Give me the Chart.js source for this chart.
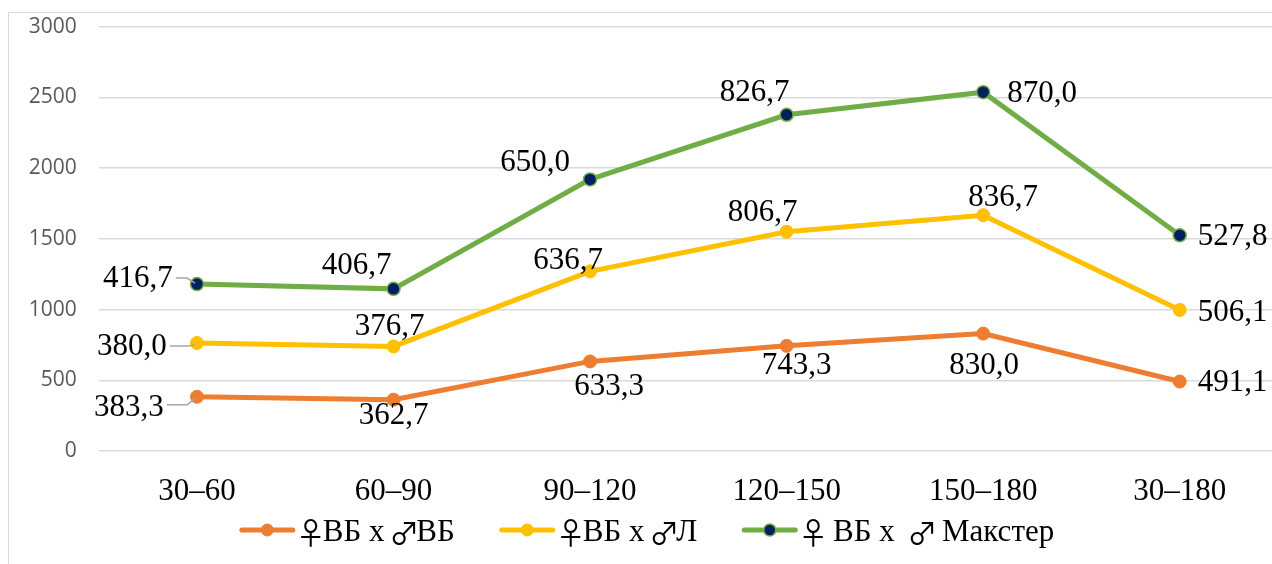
<!DOCTYPE html>
<html>
<head>
<meta charset="utf-8">
<script src="https://cdn.jsdelivr.net/npm/chart.js@4.4.1/dist/chart.umd.min.js"></script>
<style>
  html, body { margin: 0; padding: 0; background: #ffffff; overflow: hidden; }
  #wrap { position: relative; width: 1272px; height: 564px; overflow: hidden; }
  #box { position: absolute; left: 8px; top: 12px; width: 1400px; height: 700px;
         border: 1px solid #d9d9d9; box-sizing: border-box; }
  #holder { position: absolute; left: 0; top: -8px; width: 1280px; height: 572px; }
</style>
</head>
<body>
<div id="wrap">
  <div id="box"></div>
  <div id="holder"><canvas id="chart" width="1280" height="572"></canvas></div>
</div>
<script>
// Age intervals (days) on the horizontal axis
const categories = ['30–60', '60–90', '90–120', '120–150', '150–180', '30–180'];

// Series values (stacked on top of each other)
const vbVb     = [383.3, 362.7, 633.3, 743.3, 830.0, 491.1];
const vbL      = [380.0, 376.7, 636.7, 806.7, 836.7, 506.1];
const vbMaxter = [416.7, 406.7, 650.0, 826.7, 870.0, 527.8];

const seriesNames = ['♀ВБ х ♂ВБ', '♀ВБ х ♂Л', '♀ ВБ х  ♂ Макстер'];

// Y axis range / step
const yMin = 0, yMax = 3000, yStep = 500;

// Value-label placement relative to each point [dx, dy] (px)
const labelOffsets = [
  [[-68, 10], [0, 15], [19, 24], [10, 19], [1, 31], [53, 0]],
  [[-65, 3], [-4, -21], [-22, -11], [-24, -20], [20, -18], [53, 2]],
  [[-59, -6], [-37, -24], [-55, -18], [-32, -23], [59, 1], [53, 1]]
];

const ORANGE = '#ED7D31', YELLOW = '#FFC000', GREEN = '#70AD47', NAVY = '#002060';
const SERIF = '"Liberation Serif", "Times New Roman", serif';
const SYMBOL_FONT = '"Noto Sans CJK JP", "DejaVu Sans", sans-serif';

const fmt = v => v.toFixed(1).replace('.', ',');

const valueLabels = {
  id: 'valueLabels',
  afterDatasetsDraw(chart) {
    const ctx = chart.ctx;
    ctx.save();
    ctx.font = '31px ' + SERIF;
    ctx.fillStyle = '#000000';
    ctx.textAlign = 'center';
    ctx.textBaseline = 'middle';
    chart.data.datasets.forEach((ds, di) => {
      const meta = chart.getDatasetMeta(di);
      meta.data.forEach((pt, i) => {
        const [dx, dy] = labelOffsets[di][i];
        const text = fmt(ds.data[i]);
        const tx = pt.x + dx, ty = pt.y + dy;
        if (i === 0) {
          // leader line from the label to its point
          const w = ctx.measureText(text).width;
          const sx = tx + w / 2 + 3;
          const sy = ty - (di === 0 ? 2 : 0);
          ctx.save();
          ctx.strokeStyle = '#a6a6a6';
          ctx.lineWidth = 1.5;
          ctx.beginPath();
          ctx.moveTo(sx, sy);
          const mid = Math.max(sx, pt.x - 10);
          ctx.lineTo(mid, sy);
          ctx.lineTo(pt.x - 2, pt.y + (sy > pt.y ? 2 : sy < pt.y ? -1 : 0));
          ctx.stroke();
          ctx.restore();
        }
        ctx.fillText(text, tx, ty + 1);
      });
    });
    ctx.restore();
  }
};

// Legend text mixes serif letters with gender symbols from a symbol font
const SYM_ADVANCE = 24;
const runsOf = s => Array.from(s).reduce((acc, ch) => {
  const sym = ch === '♀' || ch === '♂';
  const last = acc[acc.length - 1];
  if (last && !last.sym && !sym) last.t += ch; else acc.push({ t: ch, sym });
  return acc;
}, []);
const runFont = sym => sym ? '30px ' + SYMBOL_FONT : '31px ' + SERIF;

const bottomLegend = {
  id: 'bottomLegend',
  afterDraw(chart) {
    const ctx = chart.ctx;
    ctx.save();
    ctx.textBaseline = 'alphabetic';
    const symW = 55, symGap = 4, itemGap = 45;
    const runW = r => { ctx.font = runFont(r.sym); return r.sym ? SYM_ADVANCE : ctx.measureText(r.t).width; };
    const measure = label => runsOf(label).reduce((w, r) => w + runW(r), 0);
    const items = chart.data.datasets.map(ds => ({ ds, w: symW + symGap + measure(ds.label) }));
    const total = items.reduce((s, it) => s + it.w, 0) + itemGap * (items.length - 1);
    let x = 647 - total / 2;
    const y = 538, base = 549;
    items.forEach(it => {
      const ds = it.ds;
      ctx.strokeStyle = ds.borderColor;
      ctx.lineWidth = 5;
      ctx.lineCap = 'round';
      ctx.beginPath();
      ctx.moveTo(x + 2, y);
      ctx.lineTo(x + symW - 2, y);
      ctx.stroke();
      ctx.beginPath();
      ctx.arc(x + symW / 2, y, 6, 0, Math.PI * 2);
      ctx.fillStyle = ds.pointBackgroundColor;
      ctx.fill();
      ctx.lineWidth = ds.pointBorderWidth;
      ctx.strokeStyle = ds.pointBorderColor;
      ctx.stroke();
      ctx.fillStyle = '#000000';
      let tx = x + symW + symGap;
      runsOf(ds.label).forEach(r => {
        const w = runW(r);
        if (r.sym) {
          ctx.textAlign = 'center';
          ctx.fillText(r.t, tx + w / 2, base + 3);
        } else {
          ctx.textAlign = 'left';
          ctx.fillText(r.t, tx, base);
        }
        tx += w;
      });
      x += it.w + itemGap;
    });
    ctx.restore();
  }
};

const mkSet = (label, data, color, fill, bw) => ({
  label, data,
  borderColor: color,
  backgroundColor: color,
  borderWidth: 5,
  pointRadius: 6.5,
  pointHoverRadius: 6.5,
  pointBackgroundColor: fill,
  pointBorderColor: color,
  pointBorderWidth: bw,
  tension: 0,
  fill: false
});

new Chart(document.getElementById('chart'), {
  type: 'line',
  data: {
    labels: categories,
    datasets: [
      mkSet(seriesNames[0], vbVb, ORANGE, ORANGE, 1),
      mkSet(seriesNames[1], vbL, YELLOW, YELLOW, 1),
      mkSet(seriesNames[2], vbMaxter, GREEN, NAVY, 1.5)
    ]
  },
  options: {
    responsive: false,
    animation: false,
    layout: { autoPadding: false, padding: { left: 0, right: 2, top: 14.4, bottom: 63 } },
    plugins: { legend: { display: false }, tooltip: { enabled: false } },
    scales: {
      x: {
        offset: true,
        grid: { display: false, drawTicks: false, offset: true },
        border: { display: false },
        ticks: { color: '#000000', font: { family: SERIF, size: 31 }, padding: 22, maxRotation: 0 },
        afterFit(s) { s.height = 50; }
      },
      y: {
        stacked: true,
        min: yMin, max: yMax,
        grid: { color: '#d9d9d9', lineWidth: 1.5, drawTicks: false },
        border: { display: false },
        ticks: {
          stepSize: yStep, color: '#595959',
          font: { family: '"Open Sans", sans-serif', size: 21 }, padding: 22,
          callback: v => String(v)
        },
        afterFit(s) { s.width = 98.7; }
      }
    }
  },
  plugins: [valueLabels, bottomLegend]
});
</script>
</body>
</html>
